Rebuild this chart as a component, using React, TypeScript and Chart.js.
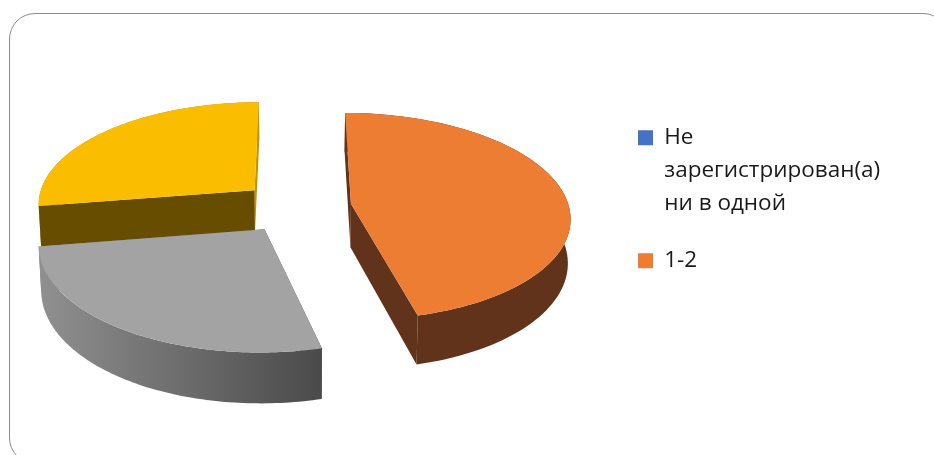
import React, { useEffect, useRef } from "react";
import { Chart, registerables } from "chart.js";

Chart.register(...registerables);

const categories = [
  ["Не", "зарегистрирован(а)", "ни в одной"],
  "1-2",
  "3-5",
  "Более 5",
];
const shares = [0, 46.1, 26.4, 27.5];
const legendColors = ["#4472C4", "#ED7D31", "#A5A5A5", "#FFC000"];
const topColors = ["#4472C4", "#EC7D32", "#A3A3A3", "#FBBD00"];
const wallColors = ["#223962", "#61331A", "#8F8F8F", "#664D00"];
const wallEndColors = ["#223962", "#61331A", "#4A4A4A", "#C49500"];

// screen projection of the pie plane (perspective view of a tilted disc)
const CX = 296;
const CY = 207;
const RX = 218;
const RY = 102.5;
const PERSP = 0.12;
const DEPTH = 43.5;
const EXPLODE = 0.255;

type Pt = { x: number; y: number };

function project(u: number, v: number, low: boolean): Pt {
  const s = 1 / (1 - PERSP * v);
  const shrink = low ? 0.99 : 1;
  return {
    x: CX + RX * u * s * shrink,
    y: CY + RY * v * s + (low ? DEPTH * s : 0),
  };
}

const pie3d = {
  id: "pie3d",
  afterLayout(chart: any) {
    const legend = chart.legend;
    legend.left = 614;
    legend.top = 102.5;
  },
  beforeDatasetsDraw(chart: any) {
    const ctx: CanvasRenderingContext2D = chart.ctx;
    const arcs = chart.getDatasetMeta(0).data as any[];
    const order = arcs
      .map((a, i) => ({ a, i }))
      .filter((o) => o.a.endAngle - o.a.startAngle > 0)
      .reverse();
    ctx.save();
    for (const { a, i } of order) {
      const mid = (a.startAngle + a.endAngle) / 2;
      const ou = Math.cos(mid) * EXPLODE;
      const ov = Math.sin(mid) * EXPLODE;
      const rim: [number, number][] = [];
      const steps = 90;
      for (let k = 0; k <= steps; k++) {
        const t = a.startAngle + ((a.endAngle - a.startAngle) * k) / steps;
        rim.push([ou + Math.cos(t), ov + Math.sin(t)]);
      }
      const apex: [number, number] = [ou, ov];
      const band = (pts: [number, number][], fill: string | CanvasGradient) => {
        ctx.beginPath();
        pts.forEach((p, n) => {
          const q = project(p[0], p[1], false);
          if (n === 0) ctx.moveTo(q.x, q.y);
          else ctx.lineTo(q.x, q.y);
        });
        [...pts].reverse().forEach((p) => {
          const q = project(p[0], p[1], true);
          ctx.lineTo(q.x, q.y);
        });
        ctx.closePath();
        ctx.fillStyle = fill;
        ctx.fill();
      };
      let wall: string | CanvasGradient = wallColors[i];
      let endWall: string | CanvasGradient = wallEndColors[i];
      if (i === 2) {
        const g = ctx.createLinearGradient(42, 0, 323, 0);
        g.addColorStop(0, wallColors[i]);
        g.addColorStop(1, wallEndColors[i]);
        wall = g;
        endWall = g;
      }
      band(rim, i === 3 ? endWall : wall);
      band([apex, rim[rim.length - 1]], endWall);
      band([apex, rim[0]], wall);
      ctx.beginPath();
      const c = project(apex[0], apex[1], false);
      ctx.moveTo(c.x, c.y);
      for (const r of rim) {
        const p = project(r[0], r[1], false);
        ctx.lineTo(p.x, p.y);
      }
      ctx.closePath();
      ctx.fillStyle = topColors[i];
      ctx.fill();
    }
    ctx.restore();
    return false;
  },
};

export default function App() {
  const ref = useRef<HTMLCanvasElement>(null);
  useEffect(() => {
    document.body.style.margin = "0";
    document.body.style.overflow = "hidden";
    const chart = new Chart(ref.current!, {
      type: "pie",
      data: {
        labels: categories as any,
        datasets: [{ data: shares, backgroundColor: legendColors, borderWidth: 0 }],
      },
      options: {
        responsive: false,
        animation: false,
        layout: { padding: 0 },
        plugins: {
          tooltip: { enabled: false },
          legend: {
            position: "right",
            align: "start",
            labels: {
              filter: (item: any) => item.index < 2,
              boxWidth: 15,
              boxHeight: 15,
              padding: 24,
              color: "#1a1a1a",
              font: { family: "'Open Sans'", size: 22.5, lineHeight: 1.467 },
            },
          },
        },
      },
      plugins: [pie3d],
    });
    return () => chart.destroy();
  }, []);
  return (
    <div style={{ position: "relative", width: 934, height: 455, overflow: "hidden", background: "#fff" }}>
      <div
        style={{
          position: "absolute",
          left: 8.5,
          top: 12.5,
          width: 940,
          height: 451,
          border: "1.5px solid #8c8c8c",
          borderRadius: 26,
          boxSizing: "border-box",
        }}
      />
      <canvas ref={ref} width={934} height={455} style={{ position: "absolute", left: 0, top: 0 }} />
    </div>
  );
}
